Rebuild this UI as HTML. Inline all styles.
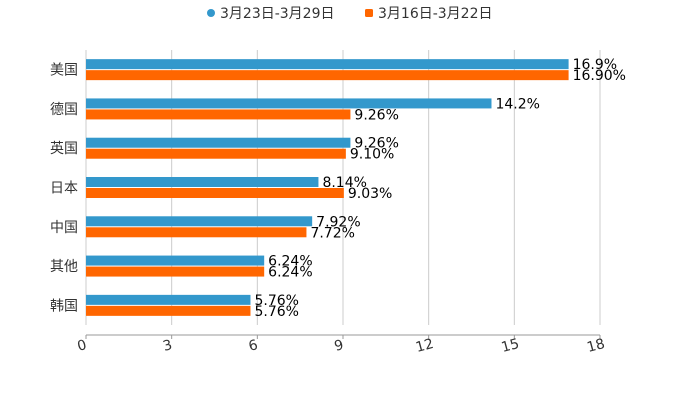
<!DOCTYPE html>
<html><head><meta charset="utf-8"><style>
body{margin:0;background:#fff;}
svg{display:block;font-family:"DejaVu Sans","Liberation Sans","Noto Sans CJK SC",sans-serif;}
</style></head><body>
<svg id="chart" width="700" height="400">
<g id="grid"></g>
<g id="bars"></g>
<g id="axes"></g>
<g>
 <g>
  <circle cx="211" cy="13" r="4" fill="#3398cc"/>
  <text x="220" y="18" font-size="14" fill="#333">3月23日-3月29日</text>
 </g>
 <g>
  <rect x="365" y="9" width="8" height="8" rx="1.5" fill="#ff6600"/>
  <text x="378" y="18" font-size="14" fill="#333">3月16日-3月22日</text>
 </g>
</g>
</svg>
<script>
const categories=["美国","德国","英国","日本","中国","其他","韩国"];
const seriesA=[16.9,14.2,9.26,8.14,7.92,6.24,5.76];
const seriesB=[16.90,9.26,9.10,9.03,7.72,6.24,5.76];
const labelsA=["16.9%","14.2%","9.26%","8.14%","7.92%","6.24%","5.76%"];
const labelsB=["16.90%","9.26%","9.10%","9.03%","7.72%","6.24%","5.76%"];
const ticks=[0,3,6,9,12,15,18];

const NS="http://www.w3.org/2000/svg";
const X0=86,X1=600,PTOP=50,PBOT=325,XMAX=18;
const xs=v=>X0+(v/XMAX)*(X1-X0);
const band=(PBOT-PTOP)/categories.length;
const yc=i=>PTOP+band*(i+0.5);
function mk(tag,attrs,parent,text){const e=document.createElementNS(NS,tag);for(const k in attrs)e.setAttribute(k,attrs[k]);if(text!==undefined)e.textContent=text;parent.appendChild(e);return e;}
const grid=document.getElementById('grid'),bars=document.getElementById('bars'),axes=document.getElementById('axes');
ticks.forEach(t=>{
 const g=mk('line',{x1:xs(t),x2:xs(t),y1:PTOP,y2:PBOT,stroke:'#ccc','stroke-width':1},grid);
 
 
 const tk=mk('line',{x1:xs(t),x2:xs(t),y1:335,y2:339,stroke:'#999'},axes);
 
 
 const lb=mk('text',{x:xs(t)-4,y:350,'font-size':14,fill:'#333','text-anchor':'middle',transform:`rotate(-15 ${xs(t)-4} 346)`},axes,String(t));
 
 
});
const ax=mk('line',{x1:X0,x2:X1,y1:335,y2:335,stroke:'#999'},axes);


categories.forEach((c,i)=>{
 const y=yc(i);
 const cl=mk('text',{x:78,y:y+5,'font-size':14,fill:'#333','text-anchor':'end'},axes,c);
 
 
 const a=mk('rect',{x:X0,y:y-10.5,width:xs(seriesA[i])-X0,height:10,fill:'#3398cc'},bars);
 
 
 const b=mk('rect',{x:X0,y:y+0.5,width:xs(seriesB[i])-X0,height:10,fill:'#ff6600'},bars);
 
 
 const la=mk('text',{x:xs(seriesA[i])+4,y:y-0.5,'font-size':14,fill:'#000'},bars,labelsA[i]);
 
 
 const lbb=mk('text',{x:xs(seriesB[i])+4,y:y+10.5,'font-size':14,fill:'#000'},bars,labelsB[i]);
 
 
});
</script>
</body></html>
